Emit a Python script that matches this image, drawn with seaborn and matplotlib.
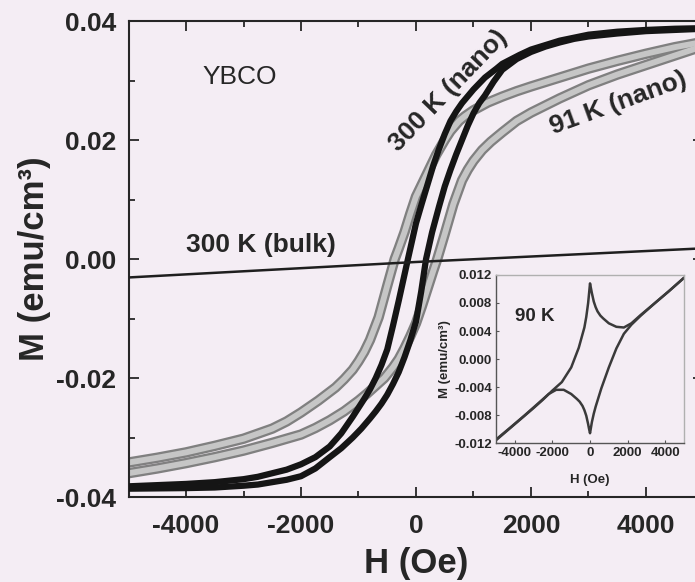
import matplotlib
matplotlib.use("Agg")
import matplotlib.pyplot as plt
from matplotlib.ticker import MultipleLocator, FormatStrFormatter
import seaborn as sns

# ---- YBCO magnetisation loops, H in Oe, M in emu/cm^3 ----
# 300 K nanoparticles, field sweep from +5000 down to -5000 Oe
h_300_down = [5000, 4500, 4000, 3500, 3000, 2500, 2000, 1800, 1500, 1400, 1200,
              1000, 800, 700, 600, 500, 400, 300, 200, 100, 0, -140, -300, -400,
              -500, -600, -700, -800, -900, -1100, -1300, -1500, -1750, -2000,
              -2250, -2500, -2750, -3000, -3500, -4000, -5000]
m_300_down = [0.0388, 0.0387, 0.0385, 0.0382, 0.0377, 0.0367, 0.0352, 0.0343,
              0.0328, 0.0320, 0.0305, 0.0285, 0.0262, 0.0248, 0.0232, 0.0210,
              0.0185, 0.0157, 0.0125, 0.0093, 0.0060, 0.0, -0.0070, -0.0112,
              -0.0152, -0.0178, -0.0200, -0.0219, -0.0235, -0.0265, -0.0293,
              -0.0315, -0.0333, -0.0345, -0.0354, -0.0360, -0.0366, -0.0370,
              -0.0375, -0.0378, -0.0382]
# 300 K nanoparticles, field sweep from -5000 up to +5000 Oe
h_300_up = [-5000, -4000, -3500, -3000, -2750, -2500, -2250, -2000, -1750, -1500,
            -1300, -1100, -950, -800, -700, -600, -500, -400, -300, -200, -100,
            0, 90, 175, 280, 400, 500, 600, 700, 800, 900, 1000, 1100, 1200,
            1350, 1500, 1750, 2000, 2250, 2500, 2750, 3000, 3500, 4000, 4500,
            5000]
m_300_up = [-0.0386, -0.0385, -0.0384, -0.0381, -0.0379, -0.0375, -0.0371,
            -0.0365, -0.0352, -0.0333, -0.0318, -0.0300, -0.0285, -0.0268,
            -0.0256, -0.0243, -0.0228, -0.0210, -0.0190, -0.0165, -0.0137,
            -0.0105, -0.0055, 0.0, 0.0045, 0.0088, 0.0122, 0.0150, 0.0176,
            0.0200, 0.0224, 0.0245, 0.0262, 0.0275, 0.0298, 0.0318, 0.0336,
            0.0348, 0.0357, 0.0364, 0.0370, 0.0374, 0.0379, 0.0383, 0.0385,
            0.0387]

# 91 K nanoparticles
h_91_down = [5000, 4500, 4000, 3500, 3000, 2500, 2000, 1750, 1500, 1250, 1000,
             850, 750, 600, 500, 350, 250, 100, 0, -100, -200, -300, -370, -500,
             -650, -800, -900, -1000, -1100, -1250, -1400, -1700, -2000, -2250,
             -2500, -3000, -3500, -4000, -4500, -5000]
m_91_down = [0.0365, 0.0356, 0.0345, 0.0333, 0.0320, 0.0305, 0.0290, 0.0282,
             0.0273, 0.0263, 0.0250, 0.0240, 0.0232, 0.0215, 0.0200, 0.0175,
             0.0155, 0.0125, 0.0105, 0.0076, 0.0045, 0.0018, 0.0, -0.0045,
             -0.0098, -0.0136, -0.0156, -0.0172, -0.0186, -0.0202, -0.0216,
             -0.0238, -0.0258, -0.0273, -0.0285, -0.0302, -0.0314, -0.0325,
             -0.0334, -0.0342]
h_91_up = [-5000, -4500, -4000, -3500, -3000, -2500, -2000, -1750, -1500, -1250,
           -1000, -850, -700, -550, -400, -300, -200, -100, 0, 100, 200, 300,
           370, 500, 650, 800, 900, 1000, 1150, 1300, 1500, 1750, 2000, 2500,
           3000, 3500, 4000, 4500, 5000]
m_91_up = [-0.0360, -0.0352, -0.0343, -0.0333, -0.0322, -0.0309, -0.0295,
           -0.0284, -0.0271, -0.0256, -0.0238, -0.0226, -0.0213, -0.0200,
           -0.0182, -0.0168, -0.0150, -0.0130, -0.0108, -0.0080, -0.0050,
           -0.0020, 0.0, 0.0042, 0.0092, 0.0132, 0.0150, 0.0165, 0.0183,
           0.0197, 0.0213, 0.0232, 0.0246, 0.0270, 0.0292, 0.0310, 0.0326,
           0.0342, 0.0358]

# 300 K bulk
h_bulk = [-5000, 0, 5000]
m_bulk = [-0.0031, -0.0005, 0.0018]

# 90 K (inset), butterfly loop of the superconducting state
h_90_up = [-5000, -4000, -3000, -2500, -2000, -1500, -1000, -600, -300, -200,
           -100, 0, 50, 100, 200, 300, 400, 550, 700, 1000, 1400, 1800, 2200,
           2700, 3500, 4200, 5000]
m_90_up = [-0.0116, -0.0093, -0.0070, -0.0058, -0.0045, -0.0033, -0.0012,
           0.0016, 0.0045, 0.0060, 0.0080, 0.0108, 0.0101, 0.0094, 0.0082,
           0.0074, 0.0068, 0.0062, 0.0058, 0.0051, 0.0046, 0.0045, 0.0051,
           0.0063, 0.0081, 0.0097, 0.0116]
h_90_down = [5000, 4200, 3500, 2700, 2200, 1800, 1400, 1000, 600, 300, 200, 100,
             0, -50, -100, -200, -300, -400, -550, -700, -1000, -1400, -1800,
             -2200, -2700, -3500, -4200, -5000]
m_90_down = [0.0116, 0.0097, 0.0081, 0.0062, 0.0049, 0.0036, 0.0015, -0.0012,
             -0.0042, -0.0068, -0.0078, -0.0090, -0.0106, -0.0100, -0.0093,
             -0.0081, -0.0073, -0.0067, -0.0061, -0.0057, -0.0050, -0.0044,
             -0.0044, -0.0050, -0.0062, -0.0081, -0.0097, -0.0115]

x_ticks = [-4000, -2000, 0, 2000, 4000]
y_ticks = [-0.04, -0.02, 0.00, 0.02, 0.04]
inset_y_ticks = [-0.012, -0.008, -0.004, 0.000, 0.004, 0.008, 0.012]

# ---- style ----
sns.set_style("ticks")
plt.rcParams["font.family"] = ["Liberation Sans", "DejaVu Sans"]
plt.rcParams["axes.unicode_minus"] = False
BG = "#f4edf4"
INK = "#262626"

fig = plt.figure(figsize=(6.95, 5.82), dpi=100, facecolor=BG)
ax = fig.add_axes([0.1849, 0.146, 0.8273, 0.8179])
ax.set_facecolor(BG)


def gray_band(axis, h, m):
    sns.lineplot(x=h, y=m, sort=False, estimator=None, ax=axis, color="#808080",
                 lw=7.5, solid_capstyle="butt", solid_joinstyle="round", zorder=2)
    sns.lineplot(x=h, y=m, sort=False, estimator=None, ax=axis, color="#c6c6c6",
                 lw=4.2, solid_capstyle="butt", solid_joinstyle="round", zorder=2.1)


gray_band(ax, h_91_down, m_91_down)
gray_band(ax, h_91_up, m_91_up)
for h, m in ((h_300_down, m_300_down), (h_300_up, m_300_up)):
    sns.lineplot(x=h, y=m, sort=False, estimator=None, ax=ax, color="#151515",
                 lw=4.5, solid_capstyle="butt", solid_joinstyle="round", zorder=3)
sns.lineplot(x=h_bulk, y=m_bulk, sort=False, estimator=None, ax=ax,
             color="#1f1f1f", lw=1.8, zorder=3)

ax.set_xlim(-5000, 5000)
ax.set_ylim(-0.04, 0.04)
ax.set_xticks(x_ticks)
ax.set_yticks(y_ticks)
ax.xaxis.set_minor_locator(MultipleLocator(1000))
ax.yaxis.set_minor_locator(MultipleLocator(0.01))
ax.yaxis.set_major_formatter(FormatStrFormatter("%.2f"))
ax.tick_params(which="both", direction="in", top=True, right=True,
               width=1.3, color=INK, labelcolor=INK, labelsize=19)
ax.tick_params(which="major", length=7)
ax.tick_params(which="minor", length=4)
ax.tick_params(axis="x", pad=12)
ax.tick_params(axis="y", pad=9)
for lab in ax.get_xticklabels() + ax.get_yticklabels():
    lab.set_fontweight("bold")
for sp in ax.spines.values():
    sp.set_linewidth(1.5)
    sp.set_color(INK)

ax.set_xlabel("H (Oe)", fontsize=25, fontweight="bold", color=INK, labelpad=7)
ax.set_ylabel("M (emu/cm³)", fontsize=25, fontweight="bold", color=INK)
ax.yaxis.set_label_coords(-0.135, 0.5)

ax.text(-3060, 0.0306, "YBCO", fontsize=19, color=INK, ha="center", va="center")
ax.text(-2700, 0.0024, "300 K (bulk)", fontsize=19, fontweight="bold", color=INK,
        ha="center", va="center")
ax.text(560, 0.0283, "300 K (nano)", fontsize=19, fontweight="bold", color=INK,
        ha="center", va="center", rotation=46, rotation_mode="anchor")
ax.text(3520, 0.0262, "91 K (nano)", fontsize=19, fontweight="bold", color=INK,
        ha="center", va="center", rotation=20, rotation_mode="anchor")

# ---- inset: 90 K ----
ins = fig.add_axes([0.7137, 0.2388, 0.2705, 0.2887])
ins.set_facecolor(BG)
for h, m in ((h_90_up, m_90_up), (h_90_down, m_90_down)):
    sns.lineplot(x=h, y=m, sort=False, estimator=None, ax=ins, color="#3a3a3a",
                 lw=1.8, solid_joinstyle="round")
ins.set_xlim(-5000, 5000)
ins.set_ylim(-0.012, 0.012)
ins.set_xticks(x_ticks)
ins.set_yticks(inset_y_ticks)
ins.yaxis.set_major_formatter(FormatStrFormatter("%.3f"))
ins.tick_params(direction="in", length=2, width=0.8, labelsize=9.5, pad=3,
                color="#555555", labelcolor=INK)
for lab in ins.get_xticklabels() + ins.get_yticklabels():
    lab.set_fontweight("bold")
for name, sp in ins.spines.items():
    sp.set_linewidth(1.0)
    sp.set_color("#555555" if name in ("left", "bottom") else "#b0b0b0")
ins.set_xlabel("H (Oe)", fontsize=9.5, fontweight="bold", color=INK, labelpad=11)
ins.set_ylabel("M (emu/cm³)", fontsize=9.5, fontweight="bold", color=INK,
               labelpad=2)
ins.text(-2930, 0.0061, "90 K", fontsize=13.5, fontweight="bold", color=INK,
         ha="center", va="center")

fig.savefig("out.png", dpi=100, facecolor=BG)
